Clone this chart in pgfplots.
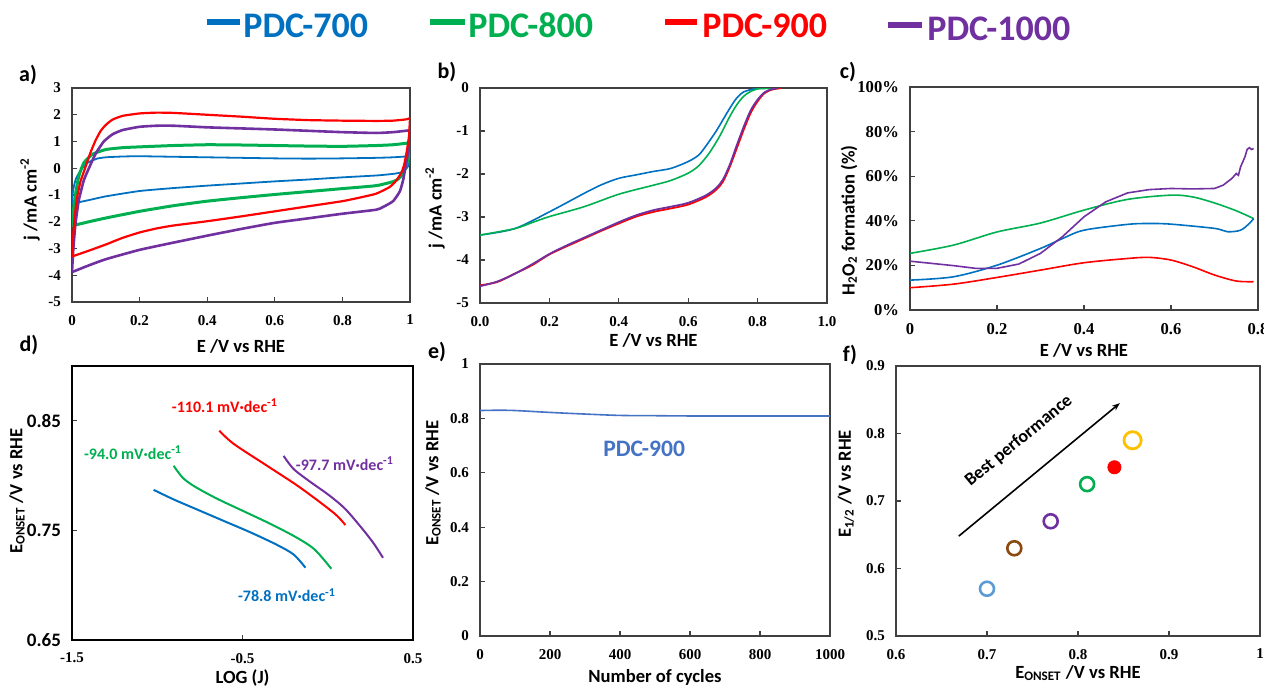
\documentclass[border=0pt]{standalone}
\usepackage{pgfplots}
\pgfplotsset{compat=1.18}
\usepackage{fontspec}
\setmainfont{Carlito}
\newfontfamily\serif{Liberation Serif}
\usetikzlibrary{arrows.meta}

\definecolor{cA}{HTML}{0070C0}
\definecolor{cB}{HTML}{00B050}
\definecolor{cC}{HTML}{FF0000}
\definecolor{cD}{HTML}{7030A0}
\definecolor{cE}{HTML}{4472C4}
\definecolor{fBlue}{HTML}{5B9BD5}
\definecolor{fBrown}{HTML}{8B4A0F}
\definecolor{fYel}{HTML}{FFC000}

\newcommand{\tickfont}{\serif\bfseries\fontsize{7.5}{9}\selectfont}
\newcommand{\labfont}{\fontsize{9.3}{11}\selectfont\bfseries}
\newcommand{\panfont}{\bfseries\fontsize{11}{13}\selectfont}
\newcommand{\legfont}{\bfseries\fontsize{18}{20}\selectfont}
\newcommand{\annfont}{\bfseries\fontsize{8}{10}\selectfont}

\pgfplotsset{
  panel/.style={
    scale only axis, anchor=south west,
    axis line style={draw=black!75, line width=0.7pt},
    tick align=inside, xtick pos=bottom, ytick pos=left,
    major tick length=2.5pt,
    tick style={black!75, line width=0.6pt},
    tick label style={font=\tickfont},
    xticklabel style={yshift=-3pt},
    yticklabel style={xshift=-2pt},
    /pgf/number format/assume math mode=true,
    /pgf/number format/1000 sep={},
    every axis x label/.style={at={(axis description cs:0.5,0)}, anchor=center, font=\labfont},
    every axis y label/.style={at={(axis description cs:0,0.5)}, anchor=center, rotate=90, font=\labfont},
  },
  cv/.style={smooth, tension=0.3},
}

\begin{document}
\begin{tikzpicture}
\useasboundingbox (0,0) rectangle (632pt,-343.5pt);

% legend
\draw[cA, line width=3pt] (103.5pt,-11pt) -- (120pt,-11pt);
\node[anchor=base west, inner sep=0, text=cA, font=\legfont] at (121.5pt,-18.5pt) {PDC-700};
\draw[cB, line width=3pt] (215pt,-11pt) -- (232.5pt,-11pt);
\node[anchor=base west, inner sep=0, text=cB, font=\legfont] at (234pt,-18.5pt) {PDC-800};
\draw[cC, line width=3pt] (332.5pt,-11pt) -- (348.5pt,-11pt);
\node[anchor=base west, inner sep=0, text=cC, font=\legfont] at (351pt,-18.5pt) {PDC-900};
\draw[cD, line width=3pt] (444pt,-12.5pt) -- (461pt,-12.5pt);
\node[anchor=base west, inner sep=0, text=cD, font=\legfont] at (463.5pt,-20pt) {PDC-1000};

% panel labels
\node[font=\panfont] at (14pt,-37.5pt) {a)};
\node[font=\panfont] at (223.5pt,-36pt) {b)};
\node[font=\panfont] at (424pt,-36pt) {c)};
\node[font=\panfont] at (14.5pt,-172.5pt) {d)};
\node[font=\panfont] at (218.5pt,-176pt) {e)};
\node[font=\panfont] at (425pt,-177.5pt) {f)};

% a) CV
\begin{axis}[panel, at={(36pt,-151pt)}, width=169pt, height=107pt,
  xmin=0, xmax=1, ymin=-5, ymax=3,
  xtick={0,0.2,0.4,0.6,0.8,1}, ytick={-5,-4,...,3},
  xlabel={E /V vs RHE}, ylabel={j /mA cm\textsuperscript{-2}},
  xlabel style={at={([yshift=-22pt]axis description cs:0.5,0)}},
  ylabel style={at={([xshift=-21pt,yshift=-2pt]axis description cs:0,0.5)}}]
% PDC-700
\addplot[cA, line width=0.9pt, cv] coordinates {(0,-1.32) (0.002,-0.95) (0.006,-0.65) (0.012,-0.38) (0.025,-0.09) (0.044,0.19) (0.074,0.36) (0.1,0.41) (0.15,0.44) (0.2,0.45) (0.3,0.43) (0.4,0.41) (0.5,0.39) (0.6,0.37) (0.7,0.36) (0.8,0.37) (0.9,0.39) (0.95,0.41) (1.0,0.45)};
\addplot[cA, line width=0.9pt, cv] coordinates {(1.0,0.45) (0.997,0.15) (0.99,0.0) (0.975,-0.15) (0.95,-0.21) (0.9,-0.27) (0.8,-0.34) (0.7,-0.42) (0.6,-0.49) (0.5,-0.57) (0.4,-0.65) (0.3,-0.74) (0.2,-0.85) (0.1,-1.05) (0.05,-1.19) (0.02,-1.27) (0,-1.32)};
% PDC-800
\addplot[cB, line width=1.5pt, cv] coordinates {(0,-2.15) (0.004,-1.6) (0.01,-1.0) (0.02,-0.3) (0.035,0.2) (0.06,0.52) (0.1,0.7) (0.15,0.77) (0.2,0.8) (0.3,0.85) (0.4,0.88) (0.5,0.87) (0.6,0.85) (0.7,0.83) (0.8,0.82) (0.9,0.85) (0.95,0.88) (1.0,0.95)};
\addplot[cB, line width=1.5pt, cv] coordinates {(1.0,0.95) (0.996,0.45) (0.99,0.15) (0.98,-0.2) (0.965,-0.4) (0.95,-0.5) (0.9,-0.65) (0.8,-0.76) (0.7,-0.87) (0.6,-0.98) (0.5,-1.1) (0.4,-1.23) (0.3,-1.4) (0.2,-1.61) (0.1,-1.86) (0.05,-2.0) (0,-2.15)};
% PDC-1000
\addplot[cD, line width=1.3pt, cv] coordinates {(0,-3.88) (0.004,-3.0) (0.01,-2.1) (0.02,-1.2) (0.035,-0.45) (0.05,0.0) (0.07,0.55) (0.094,1.0) (0.12,1.27) (0.15,1.43) (0.2,1.55) (0.25,1.59) (0.3,1.59) (0.4,1.53) (0.5,1.49) (0.6,1.45) (0.7,1.4) (0.8,1.35) (0.9,1.32) (0.95,1.35) (1.0,1.42)};
\addplot[cD, line width=1.3pt, cv] coordinates {(1.0,1.42) (0.996,0.7) (0.99,0.3) (0.98,-0.42) (0.97,-0.86) (0.95,-1.23) (0.92,-1.45) (0.9,-1.55) (0.8,-1.7) (0.7,-1.87) (0.6,-2.04) (0.5,-2.27) (0.4,-2.52) (0.3,-2.78) (0.2,-3.05) (0.1,-3.4) (0.05,-3.63) (0,-3.88)};
% PDC-900
\addplot[cC, line width=1.1pt, cv] coordinates {(0,-3.3) (0.003,-2.6) (0.008,-1.8) (0.015,-1.1) (0.025,-0.5) (0.04,0.05) (0.055,0.6) (0.07,1.05) (0.085,1.4) (0.1,1.62) (0.12,1.82) (0.15,1.96) (0.2,2.05) (0.25,2.08) (0.3,2.07) (0.4,2.0) (0.5,1.93) (0.6,1.85) (0.7,1.8) (0.8,1.78) (0.9,1.77) (0.95,1.78) (0.99,1.83) (1.0,1.88)};
\addplot[cC, line width=1.1pt, cv] coordinates {(1.0,1.88) (0.997,1.2) (0.99,0.6) (0.983,0.15) (0.975,-0.15) (0.96,-0.45) (0.94,-0.7) (0.9,-0.95) (0.85,-1.1) (0.8,-1.23) (0.7,-1.42) (0.6,-1.61) (0.5,-1.8) (0.4,-1.98) (0.3,-2.14) (0.25,-2.25) (0.2,-2.4) (0.15,-2.6) (0.1,-2.85) (0.05,-3.08) (0,-3.3)};
\end{axis}

% b) LSV
\begin{axis}[panel, at={(240pt,-151.5pt)}, width=173.5pt, height=107.5pt,
  xmin=0, xmax=1, ymin=-5, ymax=0,
  xtick={0,0.2,...,1.0}, ytick={-5,-4,...,0},
  xticklabel style={/pgf/number format/.cd, fixed, fixed zerofill, precision=1},
  xlabel={E /V vs RHE}, ylabel={j /mA cm\textsuperscript{-2}},
  xlabel style={at={([yshift=-18.5pt]axis description cs:0.5,0)}},
  ylabel style={at={([xshift=-22.5pt,yshift=-6pt]axis description cs:0,0.5)}}]
\addplot[cA, line width=0.8pt, smooth] coordinates {(0,-3.42) (0.1,-3.27) (0.2,-2.88) (0.3,-2.45) (0.35,-2.25) (0.4,-2.1) (0.45,-2.02) (0.5,-1.94) (0.55,-1.87) (0.6,-1.71) (0.63,-1.56) (0.65,-1.36) (0.68,-1.01) (0.7,-0.74) (0.72,-0.47) (0.74,-0.23) (0.76,-0.09) (0.78,-0.04) (0.8,-0.01) (0.86,0)};
\addplot[cB, line width=0.8pt, smooth] coordinates {(0,-3.42) (0.1,-3.27) (0.15,-3.13) (0.2,-2.99) (0.3,-2.76) (0.4,-2.47) (0.5,-2.26) (0.55,-2.15) (0.6,-1.98) (0.63,-1.81) (0.66,-1.52) (0.69,-1.13) (0.72,-0.66) (0.74,-0.39) (0.76,-0.19) (0.78,-0.08) (0.8,-0.02) (0.82,-0.01) (0.86,0)};
\addplot[cC, line width=0.9pt, smooth] coordinates {(0,-4.59) (0.05,-4.51) (0.1,-4.32) (0.15,-4.12) (0.2,-3.87) (0.25,-3.68) (0.3,-3.5) (0.35,-3.32) (0.4,-3.15) (0.45,-2.99) (0.5,-2.88) (0.55,-2.8) (0.6,-2.71) (0.65,-2.54) (0.68,-2.37) (0.7,-2.18) (0.72,-1.83) (0.74,-1.4) (0.76,-0.97) (0.78,-0.58) (0.8,-0.31) (0.82,-0.12) (0.84,-0.04) (0.86,-0.01) (0.87,0)};
\addplot[cD, line width=0.9pt, smooth] coordinates {(0,-4.61) (0.05,-4.5) (0.1,-4.32) (0.15,-4.1) (0.2,-3.86) (0.25,-3.66) (0.3,-3.48) (0.35,-3.3) (0.4,-3.12) (0.45,-2.96) (0.5,-2.84) (0.55,-2.76) (0.6,-2.67) (0.65,-2.5) (0.68,-2.33) (0.7,-2.13) (0.72,-1.78) (0.74,-1.33) (0.76,-0.9) (0.78,-0.52) (0.8,-0.27) (0.82,-0.1) (0.84,-0.03) (0.86,0)};
\end{axis}

% c) H2O2
\begin{axis}[panel, at={(455pt,-155pt)}, width=174pt, height=111.5pt,
  xmin=0, xmax=0.8, ymin=0, ymax=100,
  xtick={0,0.2,0.4,0.6,0.8}, ytick={0,20,...,100},
  yticklabel={\pgfmathprintnumber{\tick}\%},
  tick label style={font=\serif\bfseries\fontsize{8.3}{10}\selectfont},
  xlabel={E /V vs RHE}, ylabel={H\textsubscript{2}O\textsubscript{2} formation (\%)},
  xlabel style={at={([yshift=-20pt]axis description cs:0.5,0)}},
  ylabel style={at={([xshift=-30.5pt,yshift=-11pt]axis description cs:0,0.5)}}]
\addplot[cB, line width=0.8pt, smooth] coordinates {(0,25.4) (0.1,29.1) (0.2,35) (0.3,39) (0.4,44.8) (0.5,49.6) (0.6,51.5) (0.65,50.7) (0.7,48) (0.75,44.5) (0.79,41)};
\addplot[cA, line width=0.8pt, smooth] coordinates {(0,13.4) (0.1,14.9) (0.2,20.1) (0.3,27.6) (0.35,32) (0.4,35.8) (0.5,38.4) (0.55,38.8) (0.6,38.5) (0.7,36.6) (0.73,35.1) (0.76,35.8) (0.78,38.8) (0.79,41)};
\addplot[cC, line width=0.8pt, smooth] coordinates {(0,10) (0.1,11.6) (0.2,14.6) (0.3,17.9) (0.4,21.2) (0.5,23.1) (0.55,23.6) (0.6,22.4) (0.65,19.4) (0.7,15.7) (0.75,13) (0.79,12.7)};
\addplot[cD, line width=0.8pt] coordinates {(0,21.9) (0.05,20.9) (0.1,19.9) (0.15,18.7) (0.2,18.7) (0.25,20.6) (0.3,25.4) (0.35,32.8) (0.4,41.8) (0.45,48.5) (0.5,52.5) (0.55,54) (0.6,54.5) (0.65,54.3) (0.7,54.5) (0.72,56) (0.74,59) (0.75,61.2) (0.755,60.4) (0.76,64.2) (0.77,68.7) (0.775,72) (0.78,72.8) (0.785,72) (0.79,72.4)};
\end{axis}

% d) Tafel
\begin{axis}[panel, at={(36pt,-320pt)}, width=170.5pt, height=137pt,
  xmin=-1.5, xmax=0.5, ymin=0.65, ymax=0.9,
  xtick={-1.5,-0.5,0.5}, ytick={0.65,0.75,0.85},
  yticklabel style={font=\bfseries\fontsize{9.5}{11}\selectfont},
  axis line style={draw=black, line width=0.8pt},
  xlabel={LOG (J)}, ylabel={E\textsubscript{ONSET} /V vs RHE},
  xlabel style={at={([yshift=-19pt]axis description cs:0.5,0)}},
  ylabel style={at={([xshift=-27.5pt,yshift=6pt]axis description cs:0,0.5)}}]
\addplot[cC, line width=1pt, smooth] coordinates {(-0.636,0.841) (-0.552,0.829) (-0.356,0.809) (-0.161,0.789) (0.035,0.766) (0.103,0.755)};
\addplot[cD, line width=1pt, smooth] coordinates {(-0.259,0.818) (-0.2,0.806) (-0.1,0.794) (0.0,0.783) (0.1,0.77) (0.2,0.752) (0.27,0.738) (0.324,0.725)};
\addplot[cB, line width=1pt, smooth] coordinates {(-0.904,0.809) (-0.85,0.798) (-0.78,0.79) (-0.65,0.779) (-0.5,0.768) (-0.35,0.757) (-0.2,0.745) (-0.08,0.733) (0.021,0.715)};
\addplot[cA, line width=1pt, smooth] coordinates {(-1.021,0.787) (-0.9,0.778) (-0.75,0.768) (-0.6,0.758) (-0.45,0.748) (-0.3,0.737) (-0.2,0.728) (-0.131,0.716)};
\node[font=\annfont, text=cC] at (axis cs:-0.603,0.864) {-110.1 mV·dec\textsuperscript{-1}};
\node[font=\annfont, text=cB] at (axis cs:-1.142,0.821) {-94.0 mV·dec\textsuperscript{-1}};
\node[font=\annfont, text=cD] at (axis cs:0.101,0.811) {-97.7 mV·dec\textsuperscript{-1}};
\node[font=\annfont, text=cA] at (axis cs:-0.239,0.691) {-78.8 mV·dec\textsuperscript{-1}};
\end{axis}

% e) stability
\begin{axis}[panel, at={(240pt,-318pt)}, width=175pt, height=136pt,
  xmin=0, xmax=1000, ymin=0, ymax=1,
  xtick={0,200,...,1000}, ytick={0,0.2,...,1},
  xlabel={Number of cycles}, ylabel={E\textsubscript{ONSET} /V vs RHE},
  xlabel style={at={([yshift=-20.5pt]axis description cs:0.5,0)}},
  ylabel style={at={([xshift=-23.5pt,yshift=8.5pt]axis description cs:0,0.5)}}]
\addplot[cE, line width=0.8pt, smooth] coordinates {(0,0.829) (50,0.830) (100,0.829) (200,0.822) (300,0.816) (400,0.811) (500,0.810) (600,0.809) (800,0.809) (1000,0.809)};
\node[font=\bfseries\fontsize{11.8}{13}\selectfont, text=cE] at (axis cs:469,0.6875) {PDC-900};
\end{axis}

% f) E1/2 vs Eonset
\begin{axis}[panel, at={(448pt,-318pt)}, width=182pt, height=135pt,
  xmin=0.6, xmax=1, ymin=0.5, ymax=0.9,
  xtick={0.6,0.7,0.8,0.9,1}, ytick={0.5,0.6,0.7,0.8,0.9},
  xlabel={E\textsubscript{ONSET} /V vs RHE}, ylabel={E\textsubscript{1/2} /V vs RHE},
  xlabel style={at={([yshift=-18.5pt]axis description cs:0.5,0)}},
  ylabel style={at={([xshift=-25pt,yshift=8.5pt]axis description cs:0,0.5)}}]
\addplot[only marks, mark=o, mark size=3.5pt, draw=fBlue, line width=1.3pt] coordinates {(0.70,0.57)};
\addplot[only marks, mark=o, mark size=3.5pt, draw=fBrown, line width=1.3pt] coordinates {(0.73,0.63)};
\addplot[only marks, mark=o, mark size=3.5pt, draw=cD, line width=1.3pt] coordinates {(0.77,0.67)};
\addplot[only marks, mark=o, mark size=3.5pt, draw=cB, line width=1.3pt] coordinates {(0.81,0.725)};
\addplot[only marks, mark=*, mark size=3.3pt, draw=cC, fill=cC] coordinates {(0.84,0.75)};
\addplot[only marks, mark=o, mark size=4.3pt, draw=fYel, line width=1.4pt] coordinates {(0.86,0.79)};
\draw[-{Stealth[length=4pt]}, line width=0.8pt] (axis cs:0.669,0.648) -- (axis cs:0.846,0.845);
\node[font=\bfseries\fontsize{9}{11}\selectfont, rotate=39.5] at (axis cs:0.735,0.789) {Best performance};
\end{axis}
\end{tikzpicture}
\end{document}
